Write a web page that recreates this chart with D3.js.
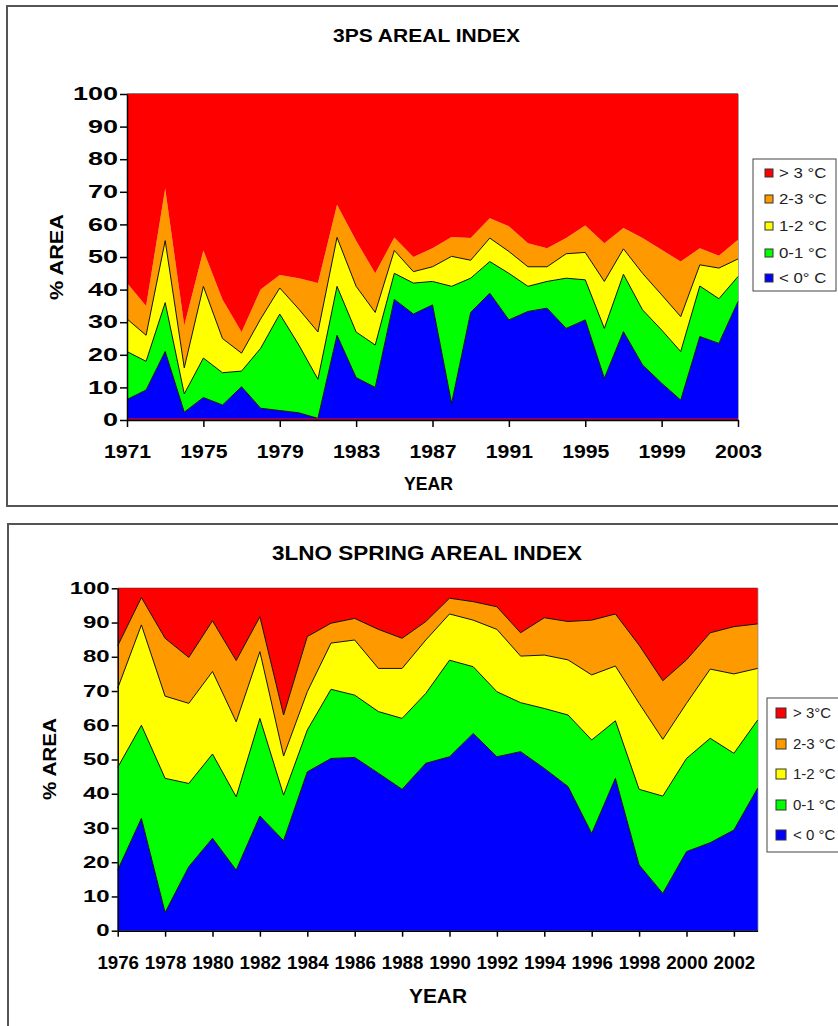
<!DOCTYPE html>
<html>
<head>
<meta charset="utf-8">
<script src="https://cdn.jsdelivr.net/npm/d3@7"></script>
<style>
  body { margin: 0; background: #fff; }
  svg { display: block; }
  text { font-family: "Liberation Sans", Arial, sans-serif; }
</style>
</head>
<body>
<div id="viz"></div>
<script>
// ---- 3PS areal index (% of area per bottom temperature class) ----
const years3ps = [1971, 1972, 1973, 1974, 1975, 1976, 1977, 1978, 1979, 1980, 1981,
  1982, 1983, 1984, 1985, 1986, 1987, 1988, 1989, 1990, 1991, 1992, 1993, 1994,
  1995, 1996, 1997, 1998, 1999, 2000, 2001, 2002, 2003];
const ps_below0 = [6.3, 9.2, 21.0, 2.4, 6.9, 4.6, 10.2, 3.6, 2.9, 2.2, 0.5, 26.0, 13.0,
  10.0, 37.0, 32.5, 35.3, 5.1, 33.0, 38.9, 30.7, 33.3, 34.3, 28.1, 30.7, 12.8, 27.1,
  16.9, 11.3, 6.1, 25.6, 23.5, 36.3];
const ps_0to1 = [14.7, 8.8, 15.0, 5.6, 12.1, 9.9, 4.8, 18.4, 29.6, 20.8, 12.0, 15.0, 14.0,
  13.0, 8.0, 9.5, 7.2, 35.9, 10.5, 9.7, 14.3, 7.7, 8.2, 15.4, 12.3, 15.3, 17.6, 16.9,
  16.3, 14.9, 15.5, 13.7, 7.7];
const ps_1to2 = [10.0, 8.0, 19.0, 8.0, 22.0, 10.5, 5.5, 9.0, 8.0, 11.0, 14.5, 15.0, 14.0,
  10.0, 7.0, 3.5, 4.5, 9.2, 5.5, 7.2, 6.7, 6.0, 4.5, 7.5, 8.4, 14.4, 7.8, 11.2, 10.8,
  10.7, 6.5, 9.4, 5.4];
const ps_2to3 = [11.0, 9.0, 16.0, 13.0, 11.0, 12.0, 6.5, 9.0, 4.0, 9.5, 15.0, 10.0, 14.0,
  12.0, 4.0, 4.5, 5.7, 5.9, 6.8, 6.1, 7.7, 7.2, 5.7, 4.8, 8.3, 11.7, 6.4, 10.8, 13.8,
  16.9, 5.1, 3.8, 5.9];
const ps_above3 = [58.0, 65.0, 29.0, 71.0, 48.0, 63.0, 73.0, 60.0, 55.5, 56.5, 58.0, 34.0,
  45.0, 55.0, 44.0, 50.0, 47.3, 43.9, 44.2, 38.1, 40.6, 45.8, 47.3, 44.2, 40.3, 45.8,
  41.1, 44.2, 47.8, 51.4, 47.3, 49.6, 44.7];
const ticks3ps = [1971, 1975, 1979, 1983, 1987, 1991, 1995, 1999, 2003];
const legend3ps = ["> 3 °C", "2-3 °C", "1-2 °C", "0-1 °C", "< 0° C"];

// ---- 3LNO spring areal index ----
const years3lno = [1976, 1977, 1978, 1979, 1980, 1981, 1982, 1983, 1984, 1985, 1986,
  1987, 1988, 1989, 1990, 1991, 1992, 1993, 1994, 1995, 1996, 1997, 1998, 1999, 2000,
  2001, 2002, 2003];
const lno_below0 = [17.7, 32.8, 5.3, 18.7, 27.0, 17.7, 33.5, 26.3, 46.4, 50.3, 50.6, 46.0,
  41.3, 48.9, 50.8, 57.6, 50.8, 52.3, 47.4, 42.1, 28.4, 44.5, 19.2, 10.9, 23.1, 25.7,
  29.4, 41.6];
const lno_0to1 = [30.0, 27.2, 39.2, 24.3, 24.6, 21.4, 28.5, 13.3, 12.2, 20.2, 18.2, 18.0,
  20.7, 20.4, 28.2, 19.5, 19.0, 14.3, 17.5, 20.9, 27.3, 16.8, 22.1, 28.4, 27.2, 30.5,
  22.4, 19.9];
const lno_1to2 = [23.1, 29.3, 24.0, 23.4, 24.1, 21.9, 19.5, 11.4, 11.2, 13.5, 16.1, 12.6,
  14.6, 15.6, 13.5, 13.6, 18.2, 13.6, 15.6, 16.1, 19.0, 16.0, 25.1, 16.6, 16.1, 20.2,
  23.2, 15.1];
const lno_2to3 = [12.4, 8.0, 16.9, 13.4, 14.8, 17.9, 10.2, 12.0, 16.1, 5.8, 6.3, 11.4,
  8.8, 5.4, 4.6, 5.4, 6.6, 6.8, 10.9, 11.2, 16.0, 15.2, 17.0, 17.1, 12.7, 10.6, 13.8,
  13.0];
const lno_above3 = [16.8, 2.7, 14.6, 20.2, 9.5, 21.1, 8.3, 37.0, 14.1, 10.2, 8.8, 12.0,
  14.6, 9.7, 2.9, 3.9, 5.4, 13.0, 8.6, 9.7, 9.3, 7.5, 16.6, 27.0, 20.9, 13.0, 11.2,
  10.4];
const ticks3lno = [1976, 1978, 1980, 1982, 1984, 1986, 1988, 1990, 1992, 1994, 1996,
  1998, 2000, 2002];
const legend3lno = ["> 3°C", "2-3 °C", "1-2 °C", "0-1 °C", "< 0 °C"];

const yTicks = [0, 10, 20, 30, 40, 50, 60, 70, 80, 90, 100];
const keys = ["below0", "t0to1", "t1to2", "t2to3", "above3"];
const colors = ["#0000ff", "#00ff00", "#ffff00", "#ff9900", "#ff0000"];

const svg = d3
  .select("#viz")
  .append("svg")
  .attr("width", 838)
  .attr("height", 1026);

// stretch text horizontally around its anchor point
function widen(sel, k) {
  sel.each(function () {
    const t = d3.select(this);
    const x = +t.attr("x") || 0;
    const y = +t.attr("y") || 0;
    t.attr("x", null)
      .attr("y", null)
      .attr("transform", `translate(${x},${y}) scale(${k},1)`);
  });
}

function drawPanel(cfg) {
  const g = svg.append("g");

  // outer frame
  g.append("rect")
    .attr("x", cfg.frame[0])
    .attr("y", cfg.frame[1])
    .attr("width", cfg.frame[2])
    .attr("height", cfg.frame[3])
    .attr("fill", "#fff")
    .attr("stroke", "#555")
    .attr("stroke-width", 2);

  const x = d3
    .scaleLinear()
    .domain([cfg.years[0], cfg.years[cfg.years.length - 1]])
    .range([cfg.left, cfg.right]);
  const y = d3.scaleLinear().domain([0, 100]).range([cfg.bottom, cfg.top]);

  const table = cfg.years.map((yr, i) => {
    const row = { year: yr };
    keys.forEach((k, j) => (row[k] = cfg.series[j][i]));
    return row;
  });
  const layers = d3.stack().keys(keys)(table);

  // plot top edge and right edge
  g.append("line")
    .attr("x1", cfg.left).attr("x2", cfg.right)
    .attr("y1", y(100)).attr("y2", y(100))
    .attr("stroke", "#000");
  g.append("line")
    .attr("x1", cfg.right).attr("x2", cfg.right)
    .attr("y1", y(100)).attr("y2", y(0))
    .attr("stroke", "#888")
    .attr("stroke-width", 1.5);

  const area = d3
    .area()
    .x((d) => x(d.data.year))
    .y0((d) => y(d[0]))
    .y1((d) => y(d[1]));

  g.selectAll("path.band")
    .data(layers)
    .enter()
    .append("path")
    .classed("band", true)
    .attr("d", area)
    .attr("fill", (d, i) => colors[i]);

  // black boundary lines between bands
  const edge = d3
    .line()
    .x((d) => x(d.data.year))
    .y((d) => y(d[1]));
  g.selectAll("path.edge")
    .data(layers.filter((d, i) => cfg.outlined.includes(i)))
    .enter()
    .append("path")
    .classed("edge", true)
    .attr("d", edge)
    .attr("fill", "none")
    .attr("stroke", "#111")
    .attr("stroke-width", 1);

  if (cfg.baseline) {
    g.append("line")
      .attr("x1", cfg.left).attr("x2", cfg.right)
      .attr("y1", y(0) - 1).attr("y2", y(0) - 1)
      .attr("stroke", "#cc0033")
      .attr("stroke-width", 1.5);
  }

  // y axis
  const yAxis = g
    .append("g")
    .attr("transform", `translate(${cfg.left},0)`)
    .call(
      d3.axisLeft(y).tickValues(yTicks).tickSize(cfg.yTickSize).tickSizeOuter(0)
        .tickPadding(2)
    );
  yAxis.attr("font-family", null).attr("font-size", null);
  yAxis.select(".domain").attr("stroke", "#000").attr("stroke-width", 1.5);
  yAxis.selectAll(".tick line").attr("stroke", "#000").attr("stroke-width", 1.5);
  yAxis.selectAll(".tick text")
    .style("font-size", cfg.yFont + "px")
    .style("font-weight", "bold")
    .attr("fill", "#000");
  widen(yAxis.selectAll(".tick text"), cfg.yStretch);

  // x axis
  const xAxis = g
    .append("g")
    .attr("transform", `translate(0,${cfg.bottom})`)
    .call(
      d3.axisBottom(x).tickValues(cfg.ticks).tickFormat(d3.format("d"))
        .tickSize(cfg.xTickSize).tickSizeOuter(0)
    );
  xAxis.attr("font-family", null).attr("font-size", null);
  xAxis.select(".domain").attr("stroke", "#000").attr("stroke-width", 1.5);
  xAxis.selectAll(".tick line").attr("stroke", "#000").attr("stroke-width", 1.5);
  xAxis.selectAll(".tick text")
    .attr("y", cfg.xLabelY)
    .attr("dy", null)
    .style("font-size", cfg.xFont + "px")
    .style("font-weight", "bold")
    .attr("fill", "#000");
  widen(xAxis.selectAll(".tick text"), cfg.xStretch);

  // titles
  const label = (t, o) =>
    g.append("text")
      .text(t)
      .attr("transform", o.transform)
      .attr("textLength", o.len)
      .attr("lengthAdjust", "spacingAndGlyphs")
      .style("font-size", o.size + "px")
      .style("font-weight", "bold");
  label(cfg.title, cfg.titleOpts);
  label("YEAR", cfg.xTitleOpts);
  label("% AREA", cfg.yTitleOpts);

  // legend
  const lg = g.append("g");
  lg.append("rect")
    .attr("x", cfg.legend.x)
    .attr("y", cfg.legend.y)
    .attr("width", cfg.legend.w)
    .attr("height", cfg.legend.h)
    .attr("fill", "#fff")
    .attr("stroke", "#444");
  const items = lg
    .selectAll("g.item")
    .data(cfg.legendLabels)
    .enter()
    .append("g")
    .classed("item", true)
    .attr("transform", (d, i) => `translate(0,${cfg.legend.rows[i]})`);
  items.append("rect")
    .attr("x", cfg.legend.sx)
    .attr("y", -cfg.legend.s / 2)
    .attr("width", cfg.legend.s)
    .attr("height", cfg.legend.s)
    .attr("fill", (d, i) => colors[4 - i])
    .attr("stroke", "#333");
  const lt = items.append("text")
    .text((d) => d)
    .attr("x", cfg.legend.tx)
    .attr("y", cfg.legend.font * 0.36)
    .style("font-size", cfg.legend.font + "px")
    .attr("fill", "#222");
  widen(lt, cfg.legend.stretch);
}

drawPanel({
  frame: [7, 6, 840, 500],
  years: years3ps,
  series: [ps_below0, ps_0to1, ps_1to2, ps_2to3, ps_above3],
  ticks: ticks3ps,
  left: 127, right: 738, top: 94, bottom: 420,
  outlined: [0, 1, 2],
  baseline: true,
  yTickSize: 7, yFont: 18, yStretch: 1.5,
  xTickSize: 7, xFont: 18, xStretch: 1.18, xLabelY: 38,
  title: "3PS AREAL INDEX",
  titleOpts: { transform: "translate(333,42)", len: 187, size: 18 },
  xTitleOpts: { transform: "translate(404,490)", len: 49, size: 19 },
  yTitleOpts: { transform: "translate(63,300) rotate(-90)", len: 86, size: 18 },
  legendLabels: legend3ps,
  legend: {
    x: 753, y: 159, w: 83, h: 132, rows: [173, 199, 226, 253, 278],
    sx: 765, s: 8, tx: 779, font: 14, stretch: 1.2
  }
});

drawPanel({
  frame: [8, 524, 840, 520],
  years: years3lno,
  series: [lno_below0, lno_0to1, lno_1to2, lno_2to3, lno_above3],
  ticks: ticks3lno,
  left: 117.7, right: 757.6, top: 588.3, bottom: 930.7,
  outlined: [0, 1, 2, 3],
  baseline: false,
  yTickSize: 6, yFont: 16, yStretch: 1.5,
  xTickSize: 6, xFont: 18, xStretch: 1.04, xLabelY: 38,
  title: "3LNO SPRING AREAL INDEX",
  titleOpts: { transform: "translate(272,560)", len: 310, size: 20 },
  xTitleOpts: { transform: "translate(409,1003)", len: 58, size: 21 },
  yTitleOpts: { transform: "translate(56,800) rotate(-90)", len: 82, size: 18 },
  legendLabels: legend3lno,
  legend: {
    x: 767, y: 698, w: 100, h: 154, rows: [713, 744, 774, 805, 835],
    sx: 776, s: 10, tx: 793, font: 15, stretch: 1.0
  }
});
</script>
</body>
</html>
